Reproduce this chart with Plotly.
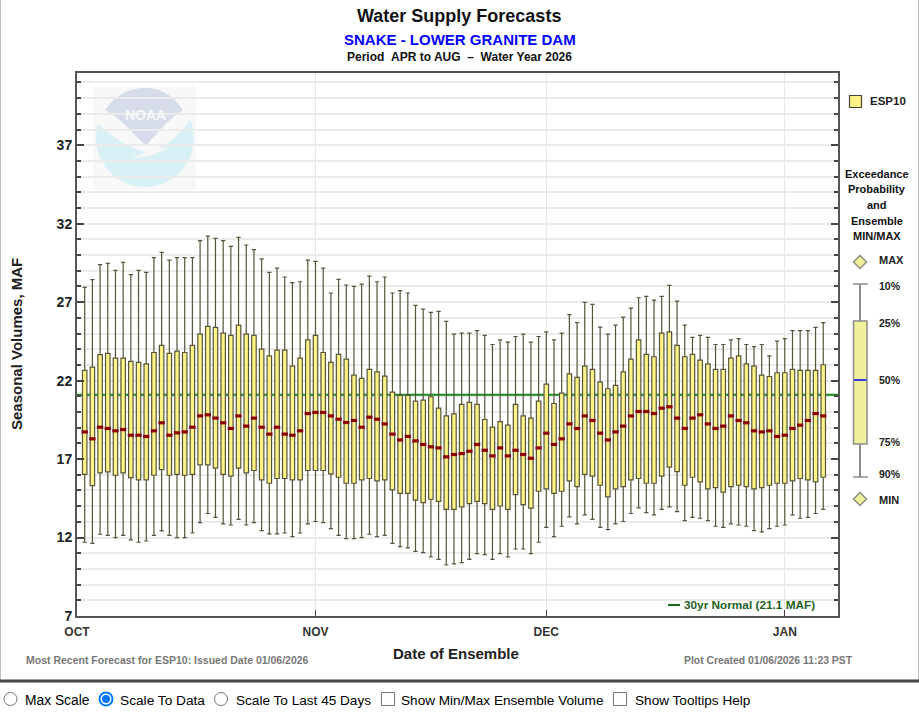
import pandas as pd
import plotly.graph_objects as go

W, H = 919, 713
L, R, T, B = 77, 838, 73, 616

dates = pd.date_range("2025-10-02", periods=97).strftime("%Y-%m-%d").tolist()

p10 = [27.94,28.43,29.39,29.47,29.02,29.53,28.75,29.02,28.90,29.83,30.17,29.68,29.83,29.83,29.83,30.92,31.21,31.06,30.92,30.55,31.13,30.64,30.34,29.75,28.90,29.17,28.60,28.24,28.30,29.68,29.60,29.17,
       27.58,28.45,28.09,28.00,28.15,28.66,28.30,28.60,27.58,27.73,27.58,26.79,26.56,26.35,26.41,25.77,24.96,25.03,25.03,25.18,24.88,24.30,24.60,24.45,24.81,24.96,24.45,24.81,25.11,24.60,25.03,26.20,25.69,
       26.98,26.86,25.41,24.96,25.54,26.05,26.62,27.28,27.37,27.13,27.37,28.07,27.07,25.54,24.75,24.88,24.75,24.30,24.30,24.60,24.67,24.30,24.16,24.30,23.58,24.52,24.67,25.18,25.18,25.18,25.39,25.69]
p25 = [22.65,22.86,23.65,23.73,23.43,23.43,23.22,23.16,23.07,23.79,24.24,23.73,23.88,23.79,24.24,24.96,25.45,25.39,25.03,24.88,25.54,24.96,24.88,24.01,23.58,23.94,23.94,22.92,23.43,24.60,24.88,23.79,
       23.16,23.67,23.37,22.35,22.14,22.71,22.56,22.28,21.26,21.05,21.05,20.69,20.75,20.97,20.24,19.75,19.88,20.48,20.61,20.48,19.52,19.03,19.39,19.16,20.48,19.75,19.61,20.69,21.77,20.54,21.20,22.43,22.20,
       22.92,22.71,21.90,21.48,21.69,22.56,23.37,24.60,23.67,23.52,25.03,25.11,24.24,23.52,23.67,23.31,23.07,22.71,22.71,23.43,23.58,23.07,22.92,22.35,22.26,22.50,22.50,22.71,22.65,22.65,22.65,23.01]
p50 = [18.73,18.29,19.03,18.95,18.80,18.88,18.52,18.52,18.44,18.80,19.31,18.52,18.67,18.73,19.03,19.75,19.82,19.61,19.31,18.95,19.75,19.10,19.61,19.03,18.59,19.03,18.59,18.52,18.80,19.90,19.97,19.97,
       19.75,19.54,19.33,19.46,19.03,19.67,19.54,19.24,18.59,18.22,18.44,18.16,17.93,17.78,17.71,17.14,17.29,17.35,17.50,17.93,17.56,17.20,17.71,17.20,17.56,17.29,17.05,17.71,18.65,17.93,18.29,19.24,18.95,
       19.75,19.46,18.65,18.22,18.73,19.10,19.75,20.03,20.03,19.90,20.24,20.33,19.61,18.95,19.61,19.82,19.24,18.95,19.10,19.75,19.46,19.31,18.80,18.73,18.80,18.44,18.52,18.95,19.16,19.46,19.90,19.75]
p75 = [16.03,15.31,16.12,16.18,15.97,16.12,15.82,15.67,15.67,15.97,16.33,15.97,16.03,15.97,16.03,16.63,16.63,16.42,16.03,15.91,16.42,16.12,16.27,15.67,15.46,15.76,15.76,15.67,15.67,16.27,16.27,16.27,
       16.06,15.84,15.46,15.46,15.67,15.76,15.61,15.67,15.04,14.82,14.82,14.38,14.23,14.44,14.31,13.80,13.80,13.95,14.16,14.31,14.16,13.80,14.01,13.80,14.74,14.10,13.87,14.95,15.10,14.82,14.95,15.61,15.25,
       16.03,15.91,15.33,14.59,15.10,15.25,15.67,15.76,15.46,15.46,15.91,16.48,16.20,15.33,15.84,15.55,15.10,15.18,14.89,15.25,15.33,15.25,15.10,15.18,15.33,15.46,15.46,15.61,15.76,15.67,15.55,15.84]
p90 = [11.70,11.63,12.21,12.14,12.00,12.14,11.85,11.70,11.78,12.14,12.42,12.14,12.00,12.00,12.29,12.95,13.53,13.29,12.87,12.80,13.16,12.80,12.95,12.44,12.23,12.23,12.29,12.06,12.29,12.87,13.02,12.95,
       12.57,12.14,11.93,11.93,12.00,12.21,12.06,12.14,11.63,11.42,11.34,11.12,11.04,10.76,10.61,10.25,10.32,10.40,10.61,10.97,10.91,10.61,10.97,10.76,11.27,11.27,10.97,11.70,12.65,12.06,12.72,13.31,12.87,
       13.44,13.16,12.65,12.51,12.87,13.02,13.53,13.89,13.59,13.44,13.80,13.95,13.65,13.08,13.29,13.23,13.08,12.72,12.65,12.87,12.80,12.72,12.44,12.36,12.57,12.72,12.80,13.44,13.23,13.29,13.53,13.80]
normal_value = 21.1

x_range = ["2025-10-01", "2026-01-07 22:00"]
month_ticks = ["2025-10-01", "2025-11-01", "2025-12-01", "2026-01-01"]
month_labels = ["OCT", "NOV", "DEC", "JAN"]
y_ticks = [7, 12, 17, 22, 27, 32, 37]

FONT = "Liberation Sans"


def px(x):
    return (x - L) / (R - L)


def py(y):
    return (B - y) / (B - T)


def path(*parts):
    out = []
    for p in parts:
        if isinstance(p, str):
            out.append(p)
        else:
            out.append(f"{px(p[0]):.5f},{py(p[1]):.5f}")
    return " ".join(out)


def rect(x0, y0, x1, y1, fill=None, color=None, width=1, layer="above"):
    return dict(type="rect", xref="paper", yref="paper", x0=px(x0), x1=px(x1), y0=py(y0), y1=py(y1),
                fillcolor=fill or "rgba(0,0,0,0)", line=dict(color=color or "rgba(0,0,0,0)", width=width if color else 0), layer=layer)


def seg(x0, y0, x1, y1, color, width):
    return dict(type="line", xref="paper", yref="paper", x0=px(x0), x1=px(x1), y0=py(y0), y1=py(y1),
                line=dict(color=color, width=width))


def circle(cx, cy, r, fill, color, width=1, layer="above"):
    return dict(type="circle", xref="paper", yref="paper", x0=px(cx - r), x1=px(cx + r), y0=py(cy + r), y1=py(cy - r),
                fillcolor=fill, line=dict(color=color, width=width), layer=layer)


def diamond(cx, cy, r=6.5):
    return dict(type="path", xref="paper", yref="paper",
                path=path("M", (cx, cy - r), "L", (cx + r, cy), "L", (cx, cy + r), "L", (cx - r, cy), "Z"),
                fillcolor="#eef09a", line=dict(color="#8c8c80", width=1.5))


def text(s, x, y, size=11, color="#111111", bold=True, anchor="center", family=FONT):
    return dict(text=f"<b>{s}</b>" if bold else s, x=px(x), y=py(y), xref="paper", yref="paper",
                xanchor=anchor, yanchor="middle", showarrow=False,
                font=dict(family=family, size=size, color=color))


fig = go.Figure()
fig.add_trace(go.Box(
    x=dates, q1=p75, median=p50, q3=p25, lowerfence=p90, upperfence=p10,
    width=0.58 * 86400000, whiskerwidth=0.95, boxpoints=False,
    fillcolor="#fff385", line=dict(color="#55553c", width=1.2), showlegend=False, hoverinfo="skip",
))
fig.add_trace(go.Scatter(
    x=dates, y=p50, mode="markers", showlegend=False, hoverinfo="skip",
    marker=dict(symbol="line-ew", size=4.5, line=dict(color="#8b0000", width=3.2)),
))

shapes = [
    # outer frame and footer rule
    seg(0.5, 0, 0.5, 681, "#bdbdbd", 1),
    seg(918.5, 0, 918.5, 681, "#bdbdbd", 1),
    seg(0, 681, 919, 681, "#444444", 3),
    # watermark
    rect(93, 86, 196, 190, fill="#f8f8f8", layer="below"),
    circle(145, 138, 49, "#d9f0f5", "#d9f0f5", 0, layer="below"),
    dict(type="path", xref="paper", yref="paper", layer="below", fillcolor="#f8f8f8", line=dict(width=0),
         path=path("M", (96, 122), "C", (110, 135), (125, 148), (145, 150), "C", (165, 150), (180, 135), (191, 118),
                   "L", (191, 100), "L", (96, 100), "Z")),
    dict(type="path", xref="paper", yref="paper", layer="below", fillcolor="#d6dcea", line=dict(width=0),
         path=path("M", (105, 110), "C", (118, 92), (132, 88), (145, 88), "C", (160, 88), (172, 94), (183, 110),
                   "C", (170, 118), (156, 134), (146, 146), "C", (134, 134), (120, 118), (105, 110), "Z")),
    dict(type="path", xref="paper", yref="paper", layer="below", fillcolor="#f8f8f8", line=dict(width=0),
         path=path("M", (130, 147), "L", (168, 148), "L", (150, 156), "L", (131, 159), "L", (146, 152), "Z")),
    # 30-year normal, under the boxes
    dict(type="line", xref="x", yref="y", x0=x_range[0], x1=x_range[1], y0=normal_value, y1=normal_value,
         layer="between", line=dict(color="#1a8a1a", width=2)),
    # normal key
    seg(668, 605, 680, 605, "#1a6b1a", 2),
    # legend glyphs
    rect(849.5, 95.5, 861.5, 107.5, fill="#fff385", color="#444433", width=1.2),
    diamond(860, 262),
    seg(853, 284, 868, 284, "#8c8c8c", 1.5),
    seg(860, 284, 860, 321, "#8c8c8c", 2),
    rect(853.5, 321, 867, 444, fill="#eef09a", color="#8c8c8c", width=1.5),
    seg(854, 380, 866.5, 380, "#3b3bdc", 2),
    seg(860, 444, 860, 477, "#8c8c8c", 2),
    seg(853, 477, 868, 477, "#8c8c8c", 1.5),
    diamond(860, 499),
    # page controls
    circle(10.5, 699, 6.5, "#ffffff", "#767676", 1),
    circle(106, 699, 6.5, "#ffffff", "#0075ff", 2),
    circle(106, 699, 4, "#0075ff", "#0075ff", 0),
    circle(221, 699, 6.5, "#ffffff", "#767676", 1),
    rect(381.5, 692.5, 394.5, 705.5, fill="#ffffff", color="#767676", width=1),
    rect(613.5, 692.5, 626.5, 705.5, fill="#ffffff", color="#767676", width=1),
]

annotations = [
    text("Water Supply Forecasts", 459, 16.5, size=18),
    text("SNAKE - LOWER GRANITE DAM", 460, 39.5, size=15, color="#0000ff"),
    text("Period&nbsp;&nbsp;APR to AUG&nbsp;&nbsp;–&nbsp;&nbsp;Water Year 2026", 459.5, 57.5, size=12),
    text("Date of Ensemble", 456, 653, size=15, color="#222222"),
    text("Most Recent Forecast for ESP10: Issued Date 01/06/2026", 24, 660, size=10.5, color="#777777", anchor="left"),
    text("Plot Created 01/06/2026 11:23 PST", 855, 660, size=10.4, color="#777777", anchor="right"),
    text("30yr Normal (21.1 MAF)", 682, 605, size=11.8, color="#1f5f1f", anchor="left"),
    text("NOAA", 145, 115, size=14, color="#f8f8f8"),
    text("ESP10", 868, 101, size=11.5, anchor="left", color="#222222"),
    text("Exceedance", 877, 174, size=11),
    text("Probability", 877, 189.5, size=11),
    text("and", 877, 205, size=11),
    text("Ensemble", 877, 220.5, size=11),
    text("MIN/MAX", 877, 236, size=11),
    text("MAX", 877, 260, size=11, anchor="left", color="#222222"),
    text("10%", 877.5, 286, size=10.5, anchor="left", color="#222222"),
    text("25%", 877.5, 323, size=10.5, anchor="left", color="#222222"),
    text("50%", 877.5, 380, size=10.5, anchor="left", color="#222222"),
    text("75%", 877.5, 442, size=10.5, anchor="left", color="#222222"),
    text("90%", 877.5, 474, size=10.5, anchor="left", color="#222222"),
    text("MIN", 877, 500, size=11, anchor="left", color="#222222"),
    text("Max Scale", 23, 700, size=13.8, bold=False, color="#000000", anchor="left"),
    text("Scale To Data", 118, 700, size=13.7, bold=False, color="#000000", anchor="left"),
    text("Scale To Last 45 Days", 234, 700, size=13.6, bold=False, color="#000000", anchor="left"),
    text("Show Min/Max Ensemble Volume", 399, 700, size=13.6, bold=False, color="#000000", anchor="left"),
    text("Show Tooltips Help", 633, 700, size=13.6, bold=False, color="#000000", anchor="left"),
]
annotations.append(dict(text="<b>Seasonal Volumes, MAF</b>", x=px(17), y=py(344), xref="paper", yref="paper",
                        textangle=-90, showarrow=False, xanchor="center", yanchor="middle",
                        font=dict(family=FONT, size=15, color="#222222")))

fig.update_layout(
    width=W, height=H,
    margin=dict(l=L, r=W - R, t=T, b=H - B),
    paper_bgcolor="#ffffff", plot_bgcolor="#ffffff",
    font=dict(family=FONT, color="#222222"),
    showlegend=False,
    shapes=shapes,
    annotations=annotations,
    xaxis=dict(
        type="date", range=x_range,
        tickmode="array", tickvals=month_ticks, ticktext=[f"<b>{m}</b>" for m in month_labels],
        tickfont=dict(family=FONT, size=12, color="#333333"),
        ticklabelstandoff=4,
        ticks="inside", ticklen=6, tickcolor="#444444", tickwidth=1,
        showgrid=True, gridcolor="#e6e6e6", gridwidth=1.2,
        showline=True, linecolor="#555555", linewidth=2, mirror=True, zeroline=False,
    ),
    yaxis=dict(
        range=[7, 41.6], tickmode="array", tickvals=y_ticks, ticktext=[f"<b>{v}</b>" for v in y_ticks],
        tickfont=dict(family=FONT, size=14, color="#222222"),
        ticks="inside", ticklen=7, tickcolor="#444444", tickwidth=1.5,
        showgrid=True, gridcolor="#ebebeb", gridwidth=1.5,
        minor=dict(dtick=1, tick0=7, ticks="inside", ticklen=4, tickcolor="#444444", tickwidth=1.5,
                   showgrid=True, gridcolor="#ebebeb", gridwidth=1.5),
        showline=True, linecolor="#555555", linewidth=2, mirror="allticks", zeroline=False,
    ),
)

fig.write_html("out.html", config={"displayModeBar": False},
               post_script="document.body.style.margin='0';")
